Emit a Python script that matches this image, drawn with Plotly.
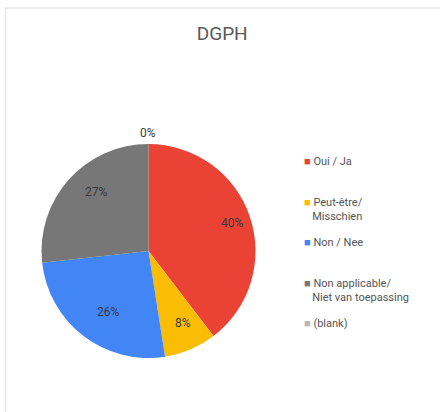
import math
import plotly.graph_objects as go

# Survey answers for DGPH
labels = ["Oui / Ja", "Peut-être/<br>Misschien", "Non / Nee",
          "Non applicable/<br>Niet van toepassing", "(blank)"]
values = [40, 8, 26, 27, 0]
colors = ["#EA4335", "#FBBC04", "#4285F4", "#777777", "#B7B7B7"]

W, H = 440, 412
cx, cy, r = 148.5, 251, 107  # pie centre and radius in pixels
FONT = "Roboto, Arial, sans-serif"

fig = go.Figure(go.Pie(
    labels=labels,
    values=values,
    sort=False,
    direction="clockwise",
    rotation=0,
    marker=dict(colors=colors, line=dict(width=0)),
    textinfo="none",
    showlegend=False,
    domain=dict(x=[(cx - r) / W, (cx + r) / W],
                y=[(H - cy - r) / H, (H - cy + r) / H]),
))

# percentage labels, placed along each slice's mid-angle
total = sum(values)
cum = 0
for v in values:
    mid = (cum + v / 2) / total * 2 * math.pi
    cum += v
    dist = 0.82 * r if v > 0 else r + 20
    px = cx + dist * math.sin(mid)
    py = cy - dist * math.cos(mid)
    fig.add_annotation(
        x=px / W, y=1 - py / H, xref="paper", yref="paper",
        text=f"{round(v / total * 100)}%", showarrow=False,
        font=dict(family=FONT, size=12, color="#3a3a3a"),
    )

# legend entries: a coloured square glyph followed by the label
for lab, col in zip(labels, colors):
    name = f'<span style="color:{col}">■</span> {lab}'
    if "<br>" not in lab:
        name += "<br> "
    else:
        name = name.replace("<br>", "<br>   ")
    fig.add_trace(go.Scatter(
        x=[None], y=[None], mode="markers", name=name,
        marker=dict(size=1, color="rgba(0,0,0,0)"),
        legendgroup=lab, showlegend=True,
    ))

fig.update_layout(
    width=W, height=H,
    margin=dict(l=0, r=0, t=0, b=0),
    paper_bgcolor="white",
    plot_bgcolor="white",
    xaxis=dict(visible=False),
    yaxis=dict(visible=False),
    title=dict(text="DGPH", x=0.505, xanchor="center", y=1 - 33 / H, yanchor="middle",
               font=dict(family=FONT, size=19, color="#595959")),
    legend=dict(x=264 / W, xanchor="left", y=1 - 147 / H, yanchor="top",
                valign="top", traceorder="grouped", tracegroupgap=9,
                font=dict(family=FONT, size=11, color="#555555")),
    font=dict(family=FONT),
    shapes=[
        dict(type="line", xref="paper", yref="paper", x0=5.5 / W, x1=5.5 / W,
             y0=0, y1=1 - 8 / H, line=dict(color="#e8e8e8", width=1.5)),
        dict(type="line", xref="paper", yref="paper", x0=5.5 / W, x1=1,
             y0=1 - 8 / H, y1=1 - 8 / H, line=dict(color="#e8e8e8", width=1.5)),
    ],
)

fig.write_html("out.html")
